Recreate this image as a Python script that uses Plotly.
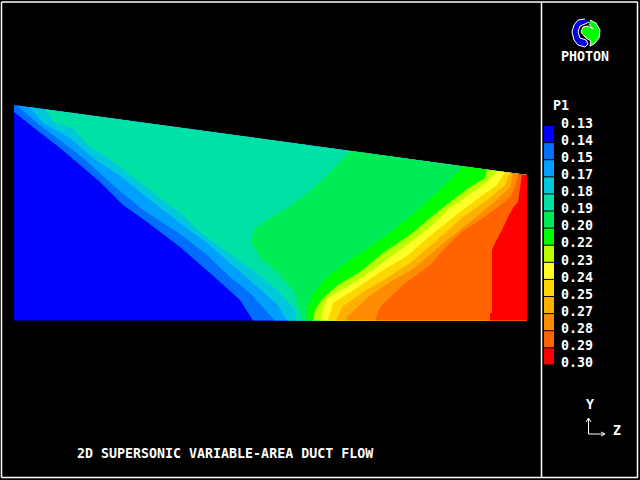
import plotly.graph_objects as go

# Contour boundaries (top edge -> bottom edge), one pair per level
outline_x = [14, 527, 527, 14]
outline_y = [105, 175, 320.5, 320.5]

b014_x = [14, 33, 60, 100, 123, 147, 180, 210, 240, 253]
b014_y = [112, 127, 148, 182, 205, 222, 247, 273, 300, 320.5]
b015_x = [17, 37, 57, 83, 113, 143, 180, 207, 230, 250, 275]
b015_y = [105.4, 123, 138, 158, 185, 210, 234, 255, 277, 293, 320.5]
b017_x = [30, 43, 70, 93, 123, 150, 180, 207, 230, 257, 278, 287]
b017_y = [107.2, 123, 138, 158, 178, 200, 223, 243, 263, 287, 305, 320.5]
b018_x = [45, 55, 72, 88, 115, 143, 180, 200, 227, 253, 280, 295, 296]
b018_y = [109.2, 123, 128, 145, 163, 185, 213, 232, 252, 270, 293, 310, 320.5]
b019_x = [350, 337, 320, 307, 287, 275, 255, 250, 258, 260, 275, 293, 300, 302]
b019_y = [150.8, 165, 182, 193, 208, 215, 228, 242, 253, 258, 270, 290, 310, 320.5]
b020_x = [463, 448, 430, 407, 383, 350, 327, 312, 308, 308]
b020_y = [166.3, 182, 199, 219, 238, 260, 277, 295, 307, 320.5]
b022_x = [487, 485, 470, 450, 430, 410, 383, 360, 338, 323, 315, 313]
b022_y = [169.5, 178, 187, 202, 218, 235, 253, 272, 285, 298, 310, 320.5]
b023_x = [497, 487, 473, 450, 427, 400, 373, 350, 328, 322, 321]
b023_y = [171, 182, 192, 208, 230, 250, 270, 285, 298, 312, 320.5]
b024_x = [505, 497, 480, 460, 430, 407, 380, 357, 333, 328]
b024_y = [172, 185, 197, 212, 236, 256, 272, 288, 303, 320.5]
b025_x = [510, 505, 487, 463, 437, 410, 387, 363, 342, 336]
b025_y = [172.7, 185, 200, 217, 240, 263, 278, 292, 307, 320.5]
b027_x = [513, 510, 493, 470, 447, 430, 410, 390, 367, 347, 347]
b027_y = [173, 187, 203, 222, 240, 255, 271, 282, 298, 317, 320.5]
b028_x = [518, 515, 510, 498, 480, 460, 443, 430, 403, 390, 380, 375]
b028_y = [173.8, 187, 197, 207, 220, 233, 250, 265, 285, 297, 307, 320.5]
b029_x = [522, 520, 518, 513, 508, 502, 498, 495, 492, 492, 490, 490]
b029_y = [174.4, 188, 202, 208, 217, 230, 237, 243, 250, 313, 313, 320.5]

boundaries = [
    (b014_x, b014_y), (b015_x, b015_y), (b017_x, b017_y), (b018_x, b018_y),
    (b019_x, b019_y), (b020_x, b020_y), (b022_x, b022_y), (b023_x, b023_y),
    (b024_x, b024_y), (b025_x, b025_y), (b027_x, b027_y), (b028_x, b028_y),
    (b029_x, b029_y),
]

level_labels = ["0.13", "0.14", "0.15", "0.17", "0.18", "0.19", "0.20", "0.22",
                "0.23", "0.24", "0.25", "0.27", "0.28", "0.29", "0.30"]
band_colors = ["#0000ff", "#006eff", "#00a0ff", "#00c8dc", "#00e1a5", "#00eb55",
               "#00ff00", "#b9ff00", "#ffff28", "#ffd700", "#ffaf00", "#ff8c00",
               "#ff6400", "#ff0000"]

logo_blue_x = [585, 578, 574, 572, 574, 578, 585, 588, 586, 580, 578, 580, 585, 589]
logo_blue_y = [19, 20, 25, 32, 40, 45, 47, 44, 40, 38, 32, 26, 24, 22]
logo_green_x = [590, 596, 600, 599, 594, 590, 591, 586, 581, 583, 588, 593, 589]
logo_green_y = [20, 23, 30, 38, 44, 46, 41, 38, 32, 27, 26, 29, 24]

fig = go.Figure()


def poly(xs, ys, color, line_color=None):
    fig.add_trace(go.Scatter(
        x=xs, y=ys, mode="lines", fill="toself", fillcolor=color,
        line=dict(color=line_color or color, width=1 if line_color else 0),
        hoverinfo="skip", showlegend=False))


poly(outline_x, outline_y, band_colors[0])
for i, (bx, by) in enumerate(boundaries):
    xs = list(bx) + [527, 527]
    ys = list(by) + [320.5, 175]
    if i == 0:
        xs = [14] + xs
        ys = [105] + ys
    poly(xs, ys, band_colors[i + 1])

# Legend swatches
fig.add_trace(go.Bar(
    x=[549] * 14, y=[16.1] * 14, width=10,
    base=[126 + 17.1 * i for i in range(14)],
    marker=dict(color=band_colors, line=dict(width=0)),
    hoverinfo="skip", showlegend=False))

poly(logo_blue_x, logo_blue_y, "#0000e6", "#ffffff")
poly(logo_green_x, logo_green_y, "#00ff00", "#ffffff")

FONT = dict(family="DejaVu Sans Mono", size=13.3, color="#ffffff")


def label(x, y, s, anchor="left"):
    fig.add_annotation(x=x, y=y, text="<b>" + s + "</b>", showarrow=False, xanchor=anchor,
                       yanchor="middle", font=FONT, xref="x", yref="y",
                       borderpad=0, borderwidth=0)


for i, t in enumerate(level_labels):
    label(561, 123 + 17.14 * i, t)
label(553, 105, "P1")
label(585, 56, "PHOTON", "center")
label(77, 453, "2D SUPERSONIC VARIABLE-AREA DUCT FLOW")
label(590, 404, "Y", "center")
label(617, 430, "Z", "center")


def seg(x0, y0, x1, y1, w=1):
    fig.add_shape(type="line", x0=x0, y0=y0, x1=x1, y1=y1, xref="x", yref="y",
                  line=dict(color="#ffffff", width=w))


# frame
seg(1.5, 2, 637.5, 2, 1.5)
seg(1.5, 477.5, 637.5, 477.5, 1.5)
seg(1.5, 2, 1.5, 477.5, 1.5)
seg(637.5, 2, 637.5, 477.5, 1.5)
seg(541.5, 2, 541.5, 477.5, 1.5)
# triad
seg(588.5, 419, 588.5, 434)
seg(588.5, 434, 604, 434)
seg(586, 422, 588.5, 418)
seg(591, 422, 588.5, 418)
seg(601, 432, 605, 434)
seg(601, 436, 605, 434)

fig.update_layout(
    width=640, height=480, margin=dict(l=0, r=0, t=0, b=0),
    paper_bgcolor="#000000", plot_bgcolor="#000000", barmode="overlay",
    xaxis=dict(range=[0, 640], visible=False, fixedrange=True),
    yaxis=dict(range=[480, 0], visible=False, fixedrange=True),
    showlegend=False,
)
fig.write_html(
    "out.html",
    config={"displayModeBar": False},
    post_script="document.body.style.margin='0';document.documentElement.style.overflow='hidden';"
                "document.body.style.background='#000';",
)
